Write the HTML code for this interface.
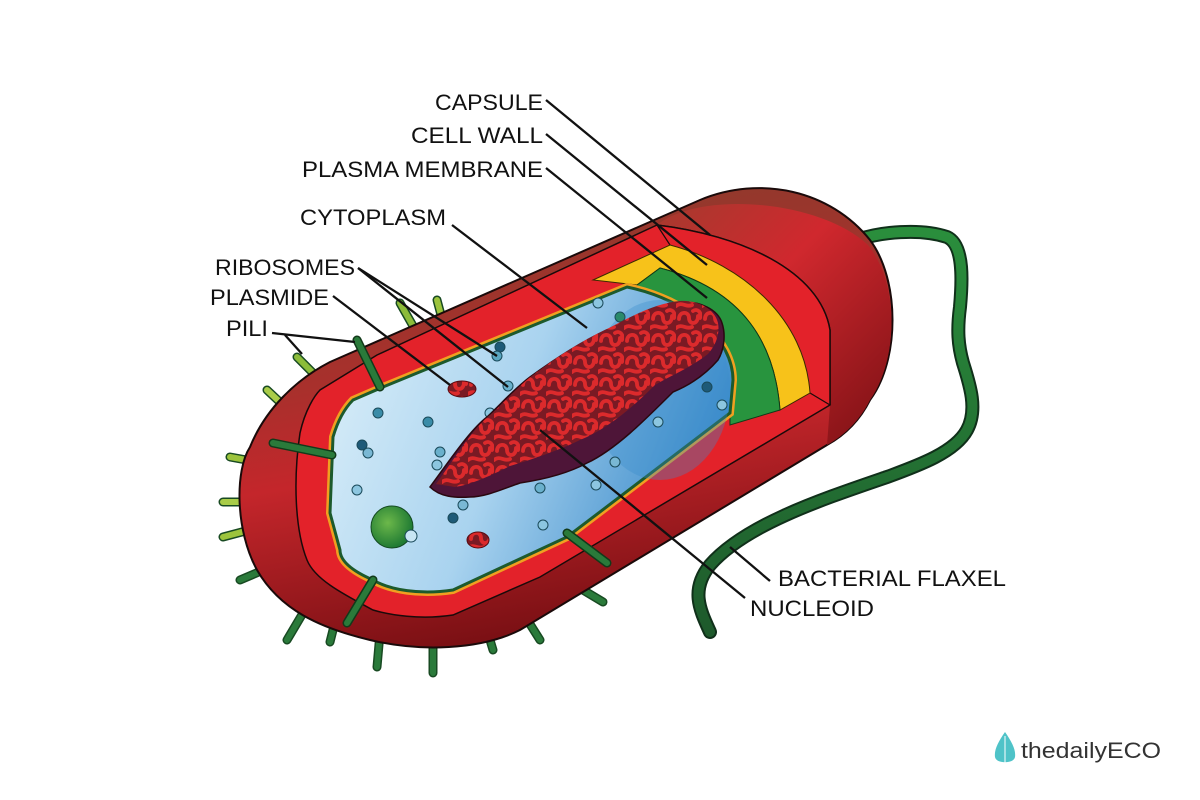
<!DOCTYPE html>
<html><head><meta charset="utf-8"><style>
html,body{margin:0;padding:0;background:#fff;width:1200px;height:800px;overflow:hidden}
svg{display:block}
text{font-family:"Liberation Sans",sans-serif;fill:#111}
</style></head><body>
<svg width="1200" height="800" viewBox="0 0 1200 800">
<defs>
<linearGradient id="body" x1="0.35" y1="0" x2="0.6" y2="1">
<stop offset="0" stop-color="#8c3b2c"/><stop offset="0.35" stop-color="#a8302c"/><stop offset="0.55" stop-color="#c4262b"/><stop offset="1" stop-color="#6e0c10"/></linearGradient>
<linearGradient id="cap" x1="0" y1="0" x2="1" y2="1">
<stop offset="0" stop-color="#a53a2e"/><stop offset="0.4" stop-color="#d0282e"/><stop offset="1" stop-color="#7a1014"/></linearGradient>
<linearGradient id="blue" x1="0" y1="0.3" x2="1" y2="0.6">
<stop offset="0" stop-color="#d6ecf8"/><stop offset="0.45" stop-color="#a9d3ef"/><stop offset="1" stop-color="#2f83c6"/></linearGradient>
<linearGradient id="flag" x1="0" y1="0" x2="0" y2="1"><stop offset="0" stop-color="#2a8e3c"/><stop offset="1" stop-color="#1e5a2c"/></linearGradient>
<radialGradient id="ball" cx="0.4" cy="0.4" r="0.6"><stop offset="0" stop-color="#6cb84a"/><stop offset="1" stop-color="#1f7a33"/></radialGradient>
<pattern id="dna" width="26" height="22" patternUnits="userSpaceOnUse">
<rect width="26" height="22" fill="#7a1a24"/>
<path d="M3 11 C3 3 13 3 13 10 C13 17 22 17 22 8 M0 20 C6 15 10 22 16 19 M17 3 C21 0 26 4 24 10" stroke="#dc2a2c" stroke-width="3.8" fill="none" stroke-linecap="round"/>
</pattern>
</defs>

<path d="M857,240 C880,232 920,228 947,237 C965,245 962,285 960,307 C957,330 958,345 963,363 C970,385 978,410 967,430 C955,452 920,465 887,477 C820,500 745,525 710,565 C690,590 700,610 710,632" stroke="#10301a" stroke-width="14" fill="none" stroke-linecap="round"/>
<path d="M857,240 C880,232 920,228 947,237 C965,245 962,285 960,307 C957,330 958,345 963,363 C970,385 978,410 967,430 C955,452 920,465 887,477 C820,500 745,525 710,565 C690,590 700,610 710,632" stroke="url(#flag)" stroke-width="10" fill="none" stroke-linecap="round"/>

<g stroke-linecap="round" fill="none">
<g stroke="#184a22" stroke-width="9">
<line x1="437" y1="300" x2="441" y2="315"/><line x1="400" y1="303" x2="417" y2="333"/><line x1="297" y1="357" x2="320" y2="380"/>
<line x1="267" y1="390" x2="283" y2="405"/><line x1="230" y1="457" x2="263" y2="463"/><line x1="223" y1="502" x2="240" y2="502"/>
<line x1="223" y1="537" x2="257" y2="528"/><line x1="240" y1="580" x2="287" y2="560"/><line x1="287" y1="640" x2="303" y2="613"/>
<line x1="330" y1="642" x2="333" y2="630"/><line x1="377" y1="667" x2="380" y2="633"/><line x1="433" y1="673" x2="433" y2="640"/>
<line x1="493" y1="650" x2="490" y2="640"/><line x1="540" y1="640" x2="523" y2="613"/><line x1="603" y1="602" x2="583" y2="590"/>
</g>
<g stroke-width="6">
<line x1="437" y1="300" x2="441" y2="315" stroke="#9cc43c"/><line x1="400" y1="303" x2="417" y2="333" stroke="#8cbc3a"/><line x1="297" y1="357" x2="320" y2="380" stroke="#8cbc3a"/>
<line x1="267" y1="390" x2="283" y2="405" stroke="#a9cc48"/><line x1="230" y1="457" x2="263" y2="463" stroke="#9cc43c"/><line x1="223" y1="502" x2="240" y2="502" stroke="#a9cc48"/>
<line x1="223" y1="537" x2="257" y2="528" stroke="#9cc43c"/><line x1="240" y1="580" x2="287" y2="560" stroke="#2a7a3a"/><line x1="287" y1="640" x2="303" y2="613" stroke="#2a7a3a"/>
<line x1="330" y1="642" x2="333" y2="630" stroke="#2a7a3a"/><line x1="377" y1="667" x2="380" y2="633" stroke="#2a7a3a"/><line x1="433" y1="673" x2="433" y2="640" stroke="#2a7a3a"/>
<line x1="493" y1="650" x2="490" y2="640" stroke="#2a7a3a"/><line x1="540" y1="640" x2="523" y2="613" stroke="#2a7a3a"/><line x1="603" y1="602" x2="583" y2="590" stroke="#2a7a3a"/>
</g></g>

<path d="M330,362 L700,200 C760,175 830,190 870,240 C900,280 900,360 870,400 C860,420 845,435 827,445 L520,630 C480,650 420,652 370,640 C320,628 280,610 257,570 C235,530 235,470 250,447 C265,410 295,380 330,362 Z" fill="url(#body)" stroke="#1a0a0a" stroke-width="2"/>
<path d="M657,225 C700,190 820,200 868,245 C900,285 898,360 870,400 C860,420 845,435 827,445 L830,405 L830,330 C820,270 740,235 657,225 Z" fill="url(#cap)"/>
<path d="M657,225 C740,235 820,270 830,330 L830,405" stroke="#1a0a0a" stroke-width="1.5" fill="none"/>

<path d="M377,355 L657,225 C740,235 820,270 830,330 L830,405 L540,577 L453,615 C420,620 390,615 373,610 C345,595 315,580 307,560 C295,530 293,480 300,433 C305,410 315,395 320,390 Z" fill="#e3222a" stroke="#1a0a0a" stroke-width="1.5"/>
<path d="M657,225 L670,245 M830,405 L810,393" stroke="#1a0a0a" stroke-width="1.2"/>
<path d="M593,280 L670,245 C745,265 805,320 810,393 L780,410 C775,345 745,290 660,268 L637,285 Z" fill="#f7c21a" stroke="#3a2a00" stroke-width="1"/>
<path d="M627,287 L637,285 L660,268 C745,290 775,345 780,410 L730,425 L730,413 C733,367 707,313 627,287 Z" fill="#28943e" stroke="#0f3a18" stroke-width="1"/>

<path d="M383,387 L627,287 C690,300 733,340 733,380 L730,413 L567,537 L453,590 C420,595 390,590 373,580 C350,570 340,560 340,550 L330,513 L333,437 C338,420 345,408 353,400 Z" fill="none" stroke="#f0a020" stroke-width="8"/>
<path d="M383,387 L627,287 C690,300 733,340 733,380 L730,413 L567,537 L453,590 C420,595 390,590 373,580 C350,570 340,560 340,550 L330,513 L333,437 C338,420 345,408 353,400 Z" fill="url(#blue)" stroke="#1d5a2c" stroke-width="3"/>
<ellipse cx="660" cy="390" rx="70" ry="90" fill="#3a8ccc" opacity="0.35"/>

<g stroke-linecap="round">
<g stroke="#123a1a" stroke-width="9"><line x1="357" y1="340" x2="380" y2="387"/><line x1="273" y1="443" x2="332" y2="455"/><line x1="347" y1="623" x2="373" y2="580"/><line x1="567" y1="533" x2="607" y2="563"/></g>
<g stroke="#2a7a3a" stroke-width="6"><line x1="357" y1="340" x2="380" y2="387"/><line x1="273" y1="443" x2="332" y2="455"/><line x1="347" y1="623" x2="373" y2="580"/><line x1="567" y1="533" x2="607" y2="563"/></g>
</g>

<g stroke="#1a4a5a" stroke-width="1">
<circle cx="598" cy="303" r="5" fill="#8cc6e0"/><circle cx="500" cy="347" r="5" fill="#1e5a78"/><circle cx="497" cy="356" r="5" fill="#5aa6c0"/>
<circle cx="508" cy="386" r="5" fill="#6ab0cc"/><circle cx="378" cy="413" r="5" fill="#3a8ca8"/><circle cx="428" cy="422" r="5" fill="#3a8ca8"/>
<circle cx="362" cy="445" r="5" fill="#1e5a78"/><circle cx="368" cy="453" r="5" fill="#7ab8d4"/><circle cx="440" cy="452" r="5" fill="#6ab0cc"/>
<circle cx="437" cy="465" r="5" fill="#8cc6e0"/><circle cx="357" cy="490" r="5" fill="#8cc6e0"/><circle cx="463" cy="505" r="5" fill="#7ab8d4"/>
<circle cx="453" cy="518" r="5" fill="#1e5a78"/><circle cx="540" cy="488" r="5" fill="#6ab0cc"/><circle cx="543" cy="525" r="5" fill="#8cc6e0"/>
<circle cx="615" cy="462" r="5" fill="#7ab8d4"/><circle cx="658" cy="422" r="5" fill="#8cc6e0"/><circle cx="707" cy="387" r="5" fill="#1e5a78"/>
<circle cx="722" cy="405" r="5" fill="#8cc6e0"/><circle cx="596" cy="485" r="5" fill="#8cc6e0"/><circle cx="620" cy="317" r="5" fill="#2a8a6a"/>
<circle cx="490" cy="413" r="5" fill="#8cc6e0"/>
</g>
<circle cx="392" cy="527" r="21" fill="url(#ball)" stroke="#144a22" stroke-width="1"/>
<circle cx="411" cy="536" r="6" fill="#c8e6f4" stroke="#1a4a5a"/>

<ellipse cx="462" cy="389" rx="14" ry="8" fill="url(#dna)" stroke="#5a0a10"/>
<ellipse cx="478" cy="540" rx="11" ry="8" fill="url(#dna)" stroke="#5a0a10"/>

<path d="M430,487 C450,460 470,430 487,417 C500,405 515,388 530,377 C560,355 585,340 607,330 C630,318 655,305 680,303 C700,300 718,310 722,323 C726,335 724,350 718,360 C705,375 690,385 673,392 C645,420 615,450 587,463 C565,475 540,480 520,483 C500,490 485,497 470,497 C455,498 440,497 430,487 Z" fill="#4e1538" stroke="#2a0810" stroke-width="1.5"/>
<path d="M436,484 C455,458 473,428 490,415 C505,402 518,386 533,375 C562,353 587,338 609,328 C632,316 656,303 680,301 C700,300 715,310 718,323 C720,334 716,345 708,354 C690,368 670,376 655,385 C630,410 605,430 580,440 C555,452 530,460 510,466 C490,476 470,485 455,487 Z" fill="url(#dna)"/>

<g stroke="#111" stroke-width="2.3" fill="none">
<line x1="546" y1="100" x2="710" y2="235"/>
<line x1="546" y1="134" x2="707" y2="265"/>
<line x1="546" y1="168" x2="707" y2="298"/>
<line x1="452" y1="225" x2="587" y2="328"/>
<polyline points="358,268 497,356"/><polyline points="358,268 508,387"/>
<line x1="333" y1="296" x2="450" y2="385"/>
<polyline points="272,333 355,342"/><line x1="285" y1="335" x2="302" y2="354"/>
<line x1="745" y1="598" x2="540" y2="430"/>
<line x1="770" y1="581" x2="730" y2="547"/>
</g>

<g font-size="22">
<text x="543" y="110" text-anchor="end" textLength="108" lengthAdjust="spacingAndGlyphs">CAPSULE</text>
<text x="543" y="143" text-anchor="end" textLength="132" lengthAdjust="spacingAndGlyphs">CELL WALL</text>
<text x="543" y="177" text-anchor="end" textLength="241" lengthAdjust="spacingAndGlyphs">PLASMA MEMBRANE</text>
<text x="300" y="225" textLength="146" lengthAdjust="spacingAndGlyphs">CYTOPLASM</text>
<text x="215" y="275" textLength="140" lengthAdjust="spacingAndGlyphs">RIBOSOMES</text>
<text x="210" y="305" textLength="119" lengthAdjust="spacingAndGlyphs">PLASMIDE</text>
<text x="226" y="336" textLength="42" lengthAdjust="spacingAndGlyphs">PILI</text>
<text x="778" y="586" textLength="228" lengthAdjust="spacingAndGlyphs">BACTERIAL FLAXEL</text>
<text x="750" y="616" textLength="124" lengthAdjust="spacingAndGlyphs">NUCLEOID</text>
</g>

<path d="M1005,732 C998,742 994,750 995,757 C996,764 1014,764 1015,757 C1016,750 1012,742 1005,732 Z" fill="#4fc3c8"/>
<path d="M1005,736 L1005,764" stroke="#fff" stroke-width="1"/>
<text x="1021" y="758" font-size="22" textLength="140" lengthAdjust="spacingAndGlyphs" style="fill:#333">thedailyECO</text>
</svg>
</body></html>
